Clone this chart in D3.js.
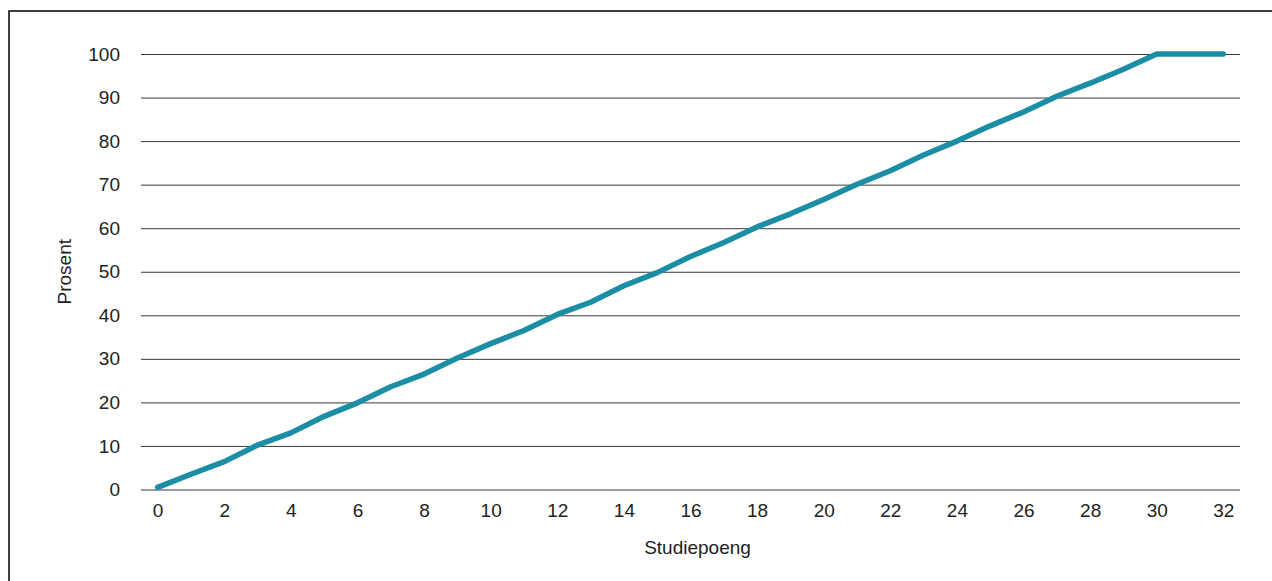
<!DOCTYPE html>
<html>
<head>
<meta charset="utf-8">
<script src="https://cdn.jsdelivr.net/npm/d3@7"></script>
<style>
  body { margin: 0; background: #fff; }
  text { font-family: "Liberation Sans", Arial, sans-serif; fill: #222; }
</style>
</head>
<body>
<script>
// studiepoeng 0..32 and cumulative percent
const studiepoeng = d3.range(0, 33);
const prosent = [0.5, 3.5, 6.4, 10.2, 13.0, 16.8, 19.9, 23.6, 26.5, 30.2, 33.5,
    36.5, 40.2, 43.0, 46.8, 49.8, 53.5, 56.7, 60.3, 63.3, 66.6, 70.1, 73.2,
    76.8, 80.0, 83.5, 86.7, 90.3, 93.3, 96.5, 100, 100, 100];
const xTicks = d3.range(0, 33, 2);
const yTicks = d3.range(0, 101, 10);

const width = 1272, height = 581;
const plotLeft = 141, plotRight = 1240, plotTop = 54, plotBottom = 489.5;

const svg = d3.select("body").append("svg")
    .attr("width", width)
    .attr("height", height);

// frame (only top and left edges show, rest runs off the picture)
svg.append("rect")
    .attr("x", 9).attr("y", 11)
    .attr("width", width + 20).attr("height", height + 20)
    .attr("fill", "none").attr("stroke", "#000").attr("stroke-width", 1.5);

const x = d3.scaleLinear().domain([-0.5, 32.5]).range([plotLeft, plotRight]);
const y = d3.scaleLinear().domain([0, 100]).range([plotBottom, plotTop]);

// y axis + gridlines
const gy = svg.append("g")
    .attr("transform", "translate(" + plotLeft + ",0)")
    .call(d3.axisLeft(y).tickValues(yTicks).tickSize(-(plotRight - plotLeft)).tickPadding(21));
gy.select(".domain").remove();
gy.selectAll(".tick line").attr("stroke", "#3a3a3a").attr("stroke-width", 1);
gy.selectAll(".tick text").style("font-size", "19px").attr("fill", "#222");

// x axis, labels only
const gx = svg.append("g")
    .attr("transform", "translate(0," + plotBottom + ")")
    .call(d3.axisBottom(x).tickValues(xTicks).tickSize(0).tickPadding(14));
gx.select(".domain").remove();
gx.selectAll(".tick text").style("font-size", "19px").attr("fill", "#222");

// line
const line = d3.line()
    .x((d, i) => x(studiepoeng[i]))
    .y(d => y(d));

svg.append("path")
    .datum(prosent)
    .attr("d", line)
    .attr("fill", "none")
    .attr("stroke", "#1b8ea6")
    .attr("stroke-width", 5.5)
    .attr("stroke-linecap", "round")
    .attr("stroke-linejoin", "round");

// axis titles
svg.append("text")
    .attr("x", (plotLeft + plotRight) / 2 + 7).attr("y", 554)
    .attr("text-anchor", "middle")
    .style("font-size", "19px")
    .text("Studiepoeng");

svg.append("text")
    .attr("transform", "translate(71," + (plotTop + plotBottom) / 2 + ") rotate(-90)")
    .attr("text-anchor", "middle")
    .style("font-size", "19px")
    .text("Prosent");
</script>
</body>
</html>
